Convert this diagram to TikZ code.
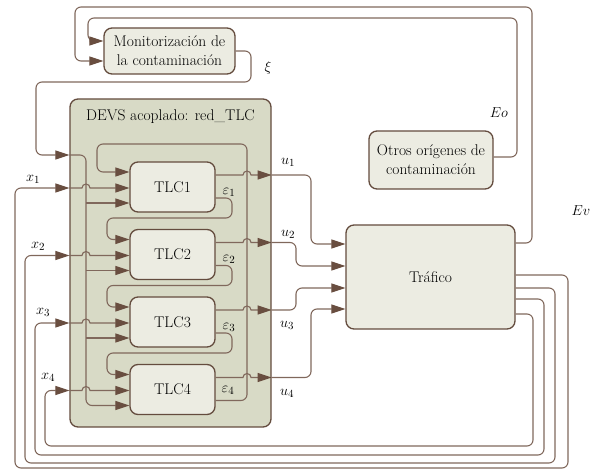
\documentclass[tikz,border=0pt]{standalone}
\usepackage{fontspec}
\usetikzlibrary{arrows.meta,calc}
\definecolor{wirec}{RGB}{128,104,92}
\definecolor{tipc}{RGB}{105,78,64}
\definecolor{edgec}{RGB}{100,76,62}
\definecolor{boxfill}{RGB}{236,236,226}
\definecolor{devsfill}{RGB}{216,218,198}
\begin{document}
\begin{tikzpicture}[x=1pt,y=-1pt,
  box/.style={draw=edgec, line width=1.3pt, fill=boxfill, rounded corners=8pt,
    align=center, inner sep=0pt, font=\fontsize{15.5}{19}\selectfont},
  wire/.style={draw=wirec, line width=1.1pt, rounded corners=6pt},
  arr/.style={wire, -{Triangle[length=14pt,width=9pt,color=tipc]}},
  lbl/.style={font=\fontsize{15.5}{18}\selectfont, inner sep=0pt},
]
\useasboundingbox (0,0) rectangle (603,470);

% coupled model frame and its title
\node[box, fill=devsfill, minimum width=201pt, minimum height=328pt] (devs) at (170.5,263) {};
\node[font=\fontsize{15.5}{18}\selectfont, inner sep=0pt] (devslbl) at (170.5,117) {DEVS acoplado: red\_TLC};

% atomic blocks
\node[box, minimum width=131pt, minimum height=46pt] (mon) at (169.5,51) {Monitorización de\\la contaminación};
\node[box, minimum width=124pt, minimum height=58pt] (otros) at (431,160) {Otros orígenes de\\contaminación};
\node[box, minimum width=169pt, minimum height=104pt] (traf) at (430.5,277) {Tráfico};
\node[box, minimum width=85pt, minimum height=50pt] (tlc1) at (172.5,187) {TLC1};
\node[box, minimum width=85pt, minimum height=50pt] (tlc2) at (172.5,254.5) {TLC2};
\node[box, minimum width=85pt, minimum height=50pt] (tlc3) at (172.5,322) {TLC3};
\node[box, minimum width=85pt, minimum height=50pt] (tlc4) at (172.5,389.5) {TLC4};

% emissions feeding the monitoring block
\draw[arr] (traf.east |- 0,243) -- (532,243) -- (532,7) -- (75,7) -- (75,61) -- (mon.west |- 0,61);
\draw[arr] (otros.east |- 0,157) -- (517,157) -- (517,18) -- (88,18) -- (88,41) -- (mon.west |- 0,41);

% pollution level xi distributed to every controller
\draw[arr] (mon.east) -- (251,51) -- (251,82) -- (36,82) -- (36,155) -- (devs.west |- 0,155);
\draw[arr] (devs.west |- 0,155) -- (86,155) -- (86,405.5) -- (tlc4.west |- 0,405.5);
\draw[arr] (86,203) -- (tlc1.west |- 0,203);
\draw[arr] (86,270.5) -- (tlc2.west |- 0,270.5);
\draw[arr] (86,338) -- (tlc3.west |- 0,338);

% traffic states x_i back to the controllers
\draw[arr] (traf.east |- 0,275) -- (568,275) -- (568,468) -- (15,468) -- (15,188) -- (devs.west |- 0,188);
\draw[arr] (traf.east |- 0,288) -- (555,288) -- (555,463) -- (25,463) -- (25,255.5) -- (devs.west |- 0,255.5);
\draw[arr] (traf.east |- 0,299) -- (544,299) -- (544,455) -- (35,455) -- (35,323) -- (devs.west |- 0,323);
\draw[arr] (traf.east |- 0,314) -- (533,314) -- (533,446) -- (45,446) -- (45,390.5) -- (devs.west |- 0,390.5);
\draw[arr, sharp corners] (devs.west |- 0,188) -- (82,188) arc[start angle=180,end angle=360,radius=4] -- (tlc1.west |- 0,188);
\draw[arr, sharp corners] (devs.west |- 0,255.5) -- (82,255.5) arc[start angle=180,end angle=360,radius=4] -- (tlc2.west |- 0,255.5);
\draw[arr, sharp corners] (devs.west |- 0,323) -- (82,323) arc[start angle=180,end angle=360,radius=4] -- (tlc3.west |- 0,323);
\draw[arr, sharp corners] (devs.west |- 0,390.5) -- (82,390.5) arc[start angle=180,end angle=360,radius=4] -- (tlc4.west |- 0,390.5);

% epsilon chain between neighbouring controllers
\draw[arr] (tlc1.east |- 0,198) -- (232,198) -- (232,218) -- (107,218) -- (107,239.5) -- (tlc2.west |- 0,239.5);
\draw[arr] (tlc2.east |- 0,265.5) -- (232,265.5) -- (232,285.5) -- (107,285.5) -- (107,307) -- (tlc3.west |- 0,307);
\draw[arr] (tlc3.east |- 0,333) -- (232,333) -- (232,353) -- (107,353) -- (107,374.5) -- (tlc4.west |- 0,374.5);
\draw[arr] (tlc4.east |- 0,400.5) -- (247,400.5) -- (247,144) -- (97,144) -- (97,172) -- (tlc1.west |- 0,172);

% controller outputs u_i
\draw[arr, sharp corners] (tlc1.east |- 0,175) -- (243,175) arc[start angle=180,end angle=360,radius=4] -- (devs.east |- 0,175);
\draw[arr, sharp corners] (tlc2.east |- 0,242.5) -- (243,242.5) arc[start angle=180,end angle=360,radius=4] -- (devs.east |- 0,242.5);
\draw[arr, sharp corners] (tlc3.east |- 0,310) -- (243,310) arc[start angle=180,end angle=360,radius=4] -- (devs.east |- 0,310);
\draw[arr, sharp corners] (tlc4.east |- 0,377.5) -- (243,377.5) arc[start angle=180,end angle=360,radius=4] -- (devs.east |- 0,377.5);
\draw[arr] (devs.east |- 0,175) -- (311,175) -- (311,244) -- (traf.west |- 0,244);
\draw[arr] (devs.east |- 0,242.5) -- (296,242.5) -- (296,266) -- (traf.west |- 0,266);
\draw[arr] (devs.east |- 0,310) -- (296,310) -- (296,288) -- (traf.west |- 0,288);
\draw[arr] (devs.east |- 0,377.5) -- (311,377.5) -- (311,309) -- (traf.west |- 0,309);

% signal names
\node[lbl] (lxi) at (268,68) {$\xi$};
\node[lbl] (lEo) at (499,113) {$Eo$};
\node[lbl] (lEv) at (581,211) {$Ev$};
\node[lbl] (lu1) at (288,162) {$u_1$};
\node[lbl] (lu2) at (288,234) {$u_2$};
\node[lbl] (lu3) at (287,325) {$u_3$};
\node[lbl] (lu4) at (287,393) {$u_4$};
\node[lbl] (le1) at (229,192) {$\varepsilon_1$};
\node[lbl] (le2) at (229,259) {$\varepsilon_2$};
\node[lbl] (le3) at (229,327) {$\varepsilon_3$};
\node[lbl] (le4) at (228,390) {$\varepsilon_4$};
\node[lbl] (lx1) at (33,179) {$x_1$};
\node[lbl] (lx2) at (38,246) {$x_2$};
\node[lbl] (lx3) at (43,312) {$x_3$};
\node[lbl] (lx4) at (48,377) {$x_4$};
\end{tikzpicture}
\end{document}
